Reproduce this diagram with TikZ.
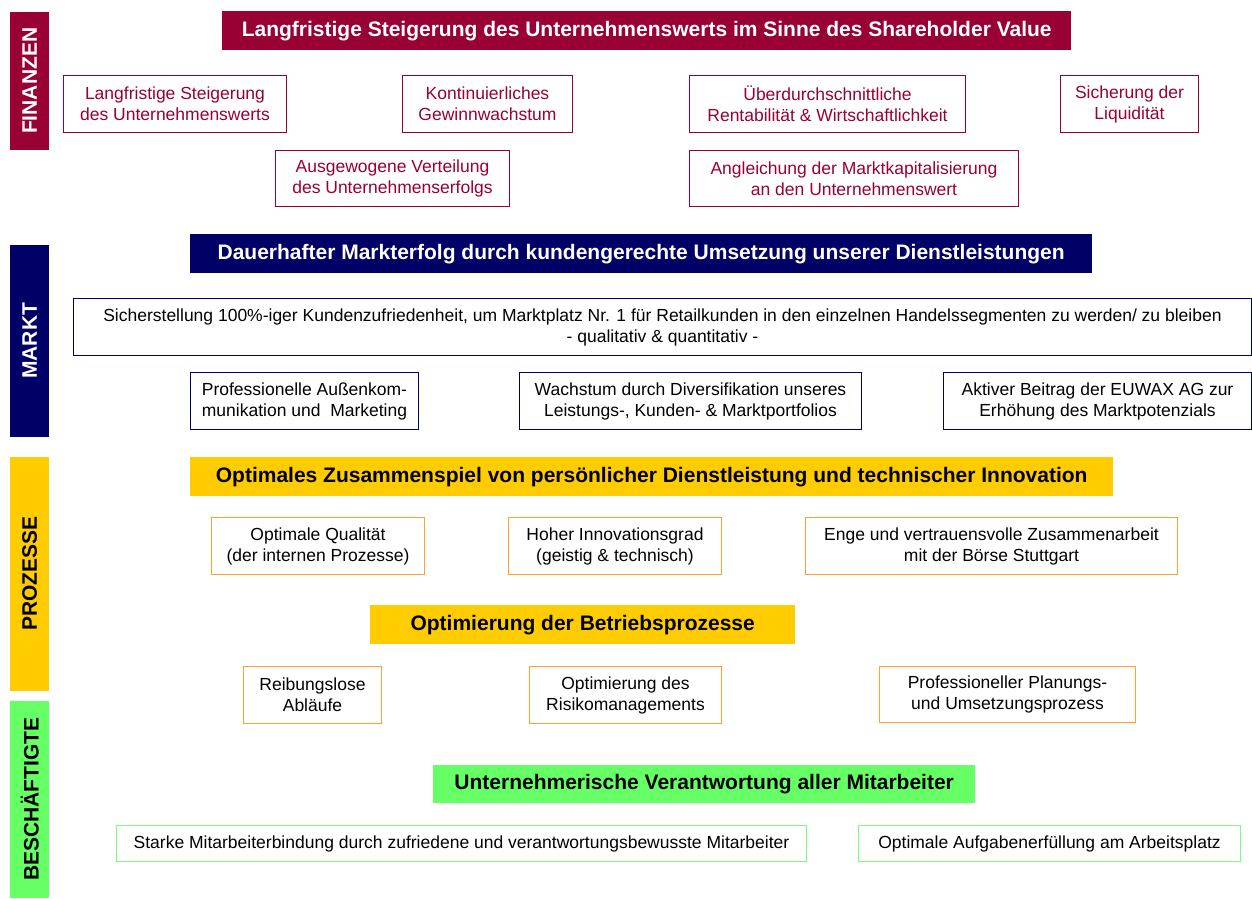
\documentclass[tikz,border=0pt]{standalone}
\usepackage{fontspec}
\setmainfont{Liberation Sans}
\definecolor{fin}{HTML}{990033}
\definecolor{mkt}{HTML}{000066}
\definecolor{proz}{HTML}{FFCC00}
\definecolor{prozb}{HTML}{FFA030}
\definecolor{besch}{HTML}{66FF66}
\definecolor{beschb}{HTML}{80F880}
\tikzset{
  reg/.style={font=\fontsize{17.5}{21}\selectfont},
  bld/.style={font=\fontsize{21}{25}\selectfont\bfseries},
  box/.style={reg, draw, line width=1pt, anchor=north west, inner sep=0pt, align=center, fill=white},
  head/.style={bld, anchor=north west, inner sep=0pt, align=center},
  sidebar/.style={bld, rotate=90, anchor=north west, inner sep=0pt},
  finbox/.style={box, draw=fin, text=fin},
  mktbox/.style={box, draw=mkt, text=black},
  prozbox/.style={box, draw=prozb, text=black},
  beschbox/.style={box, draw=beschb, text=black},
}
\begin{document}
\begin{tikzpicture}[x=1pt,y=-1pt]
\useasboundingbox (0,0) rectangle (1252,898);
% side bars
\node[sidebar, fill=fin, text=white, minimum width=138pt, minimum height=39pt] (sfin) at (10,150) {FINANZEN};
\node[sidebar, fill=mkt, text=white, minimum width=192pt, minimum height=39pt] (smkt) at (10,437) {MARKT};
\node[sidebar, fill=proz, text=black, minimum width=234pt, minimum height=39pt] (sproz) at (10,691) {PROZESSE};
\node[sidebar, fill=besch, text=black, minimum width=197pt, minimum height=39pt] (sbesch) at (10,898) {BESCHÄFTIGTE};
% Finanzen
\node[head, fill=fin, text=white, minimum width=849pt, minimum height=39pt] (fh) at (222,11) {Langfristige Steigerung des Unternehmenswerts im Sinne des Shareholder Value};
\node[finbox, minimum width=223pt, minimum height=57pt] (f1) at (63,75) {Langfristige Steigerung\\des Unternehmenswerts};
\node[finbox, minimum width=170pt, minimum height=57pt] (f2) at (402,75) {Kontinuierliches\\Gewinnwachstum};
\node[finbox, minimum width=276pt, minimum height=57pt] (f3) at (689,75) {Überdurchschnittliche\\Rentabilität \& Wirtschaftlichkeit};
\node[finbox, minimum width=138pt, minimum height=57pt] (f4) at (1060,75) {Sicherung der\\Liquidität};
\node[finbox, minimum width=234pt, minimum height=56pt] (f5) at (275,150) {Ausgewogene Verteilung\\des Unternehmenserfolgs};
\node[finbox, minimum width=329pt, minimum height=56pt] (f6) at (689,150) {Angleichung der Marktkapitalisierung\\an den Unternehmenswert};
% Markt
\node[head, fill=mkt, text=white, minimum width=902pt, minimum height=39pt] (mh) at (190,234) {Dauerhafter Markterfolg durch kundengerechte Umsetzung unserer Dienstleistungen};
\node[mktbox, minimum width=1178pt, minimum height=57pt] (m1) at (73,298) {Sicherstellung 100\%-iger Kundenzufriedenheit, um Marktplatz Nr. 1 für Retailkunden in den einzelnen Handelssegmenten zu werden/ zu bleiben\\- qualitativ \& quantitativ -};
\node[mktbox, minimum width=228pt, minimum height=57pt] (m2) at (190,372) {Professionelle Außenkom-\\munikation und~ Marketing};
\node[mktbox, minimum width=342pt, minimum height=57pt] (m3) at (519,372) {Wachstum durch Diversifikation unseres\\Leistungs-, Kunden- \& Marktportfolios};
\node[mktbox, minimum width=308pt, minimum height=57pt] (m4) at (943,372) {Aktiver Beitrag der EUWAX AG zur\\Erhöhung des Marktpotenzials};
% Prozesse
\node[head, fill=proz, text=black, minimum width=923pt, minimum height=39pt] (ph1) at (190,457) {Optimales Zusammenspiel von persönlicher Dienstleistung und technischer Innovation};
\node[prozbox, minimum width=213pt, minimum height=57pt] (p1) at (211,517) {Optimale Qualität\\(der internen Prozesse)};
\node[prozbox, minimum width=213pt, minimum height=57pt] (p2) at (508,517) {Hoher Innovationsgrad\\(geistig \& technisch)};
\node[prozbox, minimum width=372pt, minimum height=57pt] (p3) at (805,517) {Enge und vertrauensvolle Zusammenarbeit\\mit der Börse Stuttgart};
\node[head, fill=proz, text=black, minimum width=425pt, minimum height=39pt] (ph2) at (370,605) {Optimierung der Betriebsprozesse};
\node[prozbox, minimum width=138pt, minimum height=57pt] (p4) at (243,666) {Reibungslose\\Abläufe};
\node[prozbox, minimum width=192pt, minimum height=57pt] (p5) at (529,666) {Optimierung des\\Risikomanagements};
\node[prozbox, minimum width=256pt, minimum height=56pt] (p6) at (879,666) {Professioneller Planungs-\\und Umsetzungsprozess};
% Beschaeftigte
\node[head, fill=besch, text=black, minimum width=542pt, minimum height=38pt] (bh) at (433,765) {Unternehmerische Verantwortung aller Mitarbeiter};
\node[beschbox, minimum width=690pt, minimum height=36pt] (b1) at (116,825) {Starke Mitarbeiterbindung durch zufriedene und verantwortungsbewusste Mitarbeiter};
\node[beschbox, minimum width=382pt, minimum height=36pt] (b2) at (858,825) {Optimale Aufgabenerfüllung am Arbeitsplatz};
\end{tikzpicture}
\end{document}
